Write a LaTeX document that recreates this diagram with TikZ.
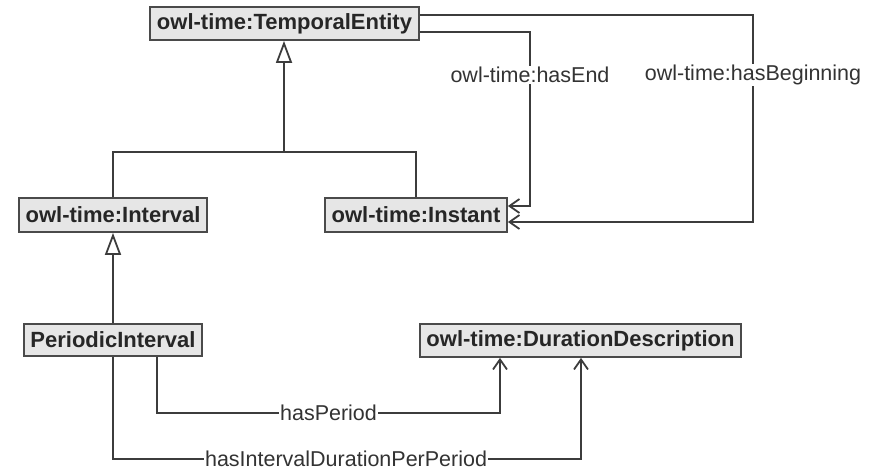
\documentclass[tikz,border=0pt]{standalone}
\usepackage{fontspec}
\setmainfont{Liberation Sans}
\usetikzlibrary{arrows.meta}
\definecolor{boxfill}{HTML}{E6E6E6}
\definecolor{boxline}{HTML}{4A4A4A}
\definecolor{wire}{HTML}{3C3C3C}
\definecolor{lbl}{HTML}{333333}
\tikzset{
  cls/.style={draw=boxline, line width=1.8pt, fill=boxfill, inner sep=0pt,
    font=\fontsize{22}{24}\selectfont\bfseries, text=black!85},
  wirestyle/.style={draw=wire, line width=1.8pt},
  gen/.style={wirestyle, -{Triangle[open, length=22pt, width=16pt, fill=white, line width=1.8pt]}},
  assoc/.style={wirestyle, -{Straight Barb[length=10pt, width=14pt]}},
  lab/.style={fill=white, inner sep=1pt, text=lbl, font=\fontsize{21.5}{24}\selectfont}
}
\begin{document}
\begin{tikzpicture}[x=1pt, y=-1pt]
\useasboundingbox (0,0) rectangle (873,469);

\node[cls, minimum width=269pt, minimum height=33pt] (TE) at (284.5,23.5) {owl-time:TemporalEntity};
\node[cls, minimum width=188pt, minimum height=34pt] (IV) at (113,215) {owl-time:Interval};
\node[cls, minimum width=182pt, minimum height=34pt] (IN) at (416,215) {owl-time:Instant};
\node[cls, minimum width=178pt, minimum height=32pt] (PI) at (113,340) {PeriodicInterval};
\node[cls, minimum width=321pt, minimum height=33pt] (DD) at (580.5,340.5) {owl-time:DurationDescription};

% generalization tree
\coordinate (jl) at (113,152);
\coordinate (jr) at (416,152);
\coordinate (jm) at (284,152);
\draw[wirestyle] (IV.north) -- (jl) -- (jr) -- (IN.north);
\draw[gen] (jm) -- (jm |- TE.south);
\draw[gen] (PI.north) -- (IV.south);

% hasEnd
\coordinate (e1) at (530,32);
\coordinate (e2) at (530,206);
\draw[assoc] (TE.east |- e1) -- (e1) -- node[lab, pos=0.247] {owl-time:hasEnd} (e2) -- (IN.east |- e2);

% hasBeginning
\coordinate (b1) at (753,15);
\coordinate (b2) at (753,222);
\draw[assoc] (TE.east |- b1) -- (b1) -- node[lab, pos=0.29] {owl-time:hasBeginning} (b2) -- (IN.east |- b2);

% hasPeriod
\coordinate (p1) at (157,413);
\coordinate (p2) at (500,413);
\draw[assoc] (PI.south -| p1) -- (p1) -- node[lab, pos=0.5] {hasPeriod} (p2) -- (DD.south -| p2);

% hasIntervalDurationPerPeriod
\coordinate (q1) at (113,459);
\coordinate (q2) at (581,459);
\draw[assoc] (PI.south -| q1) -- (q1) -- node[lab, pos=0.498, inner ysep=0pt] {hasIntervalDurationPerPeriod} (q2) -- (DD.south -| q2);
\end{tikzpicture}
\end{document}
